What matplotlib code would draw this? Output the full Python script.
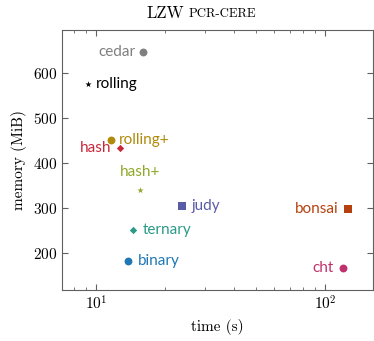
import matplotlib
matplotlib.use("Agg")
import matplotlib.pyplot as plt
from matplotlib.ticker import LogLocator, NullFormatter

plt.rcParams["font.family"] = "cmr10"
plt.rcParams["mathtext.fontset"] = "cm"
plt.rcParams["axes.formatter.use_mathtext"] = True

names = ["cedar", "rolling", "rolling+", "hash", "hash+", "judy",
         "ternary", "binary", "bonsai", "cht"]
times = [16.1, 9.2, 11.6, 12.7, 15.6, 23.8, 14.5, 13.8, 126, 120]
memory = [646, 575, 451, 433, 340, 304, 251, 182, 298, 167]
colors = ["#7f7f7f", "#000000", "#b08a0a", "#c8283a", "#8fa82a", "#5a5aa8",
          "#2a9a88", "#1f78b4", "#b5420e", "#c0306c"]
markers = ["o", "*", "o", "D", "*", "s", "D", "o", "s", "o"]
sizes = [32, 22, 32, 14, 22, 32, 14, 32, 32, 32]
# label placement: (dx, dy) in points, ha
places = [(-6, 0, "right"), (6, 0, "left"), (6, 0, "left"), (-6, 0, "right"),
          (0, 13, "center"), (7, 0, "left"), (7, 0, "left"), (7, 0, "left"),
          (-7, 0, "right"), (-7, 0, "right")]

fig = plt.figure(figsize=(3.74, 3.41), dpi=100)
ax = fig.add_axes([62 / 374, 1 - 290 / 341, 311 / 374, 260 / 341])

for n, t, m, c, mk, s, p in zip(names, times, memory, colors, markers, sizes, places):
    ax.scatter(t, m, color=c, marker=mk, s=s, zorder=3, linewidths=0)
    ax.annotate(n, (t, m), xytext=(p[0], p[1]), textcoords="offset points",
                ha=p[2], va="center", color=c, fontsize=11, family="Lato")

ax.set_xscale("log")
ax.set_xlim(7.1, 162)
ax.set_ylim(118, 696)
ax.set_yticks([200, 300, 400, 500, 600])
ax.xaxis.set_minor_locator(LogLocator(base=10, subs=range(2, 10)))
ax.xaxis.set_minor_formatter(NullFormatter())
ax.tick_params(which="both", direction="in", top=True, right=True,
               labelsize=11, color="#606060")
ax.tick_params(which="major", length=4)
ax.tick_params(which="minor", length=2.5)
for sp in ax.spines.values():
    sp.set_color("#606060")

ax.set_xlabel("time (s)", fontsize=11)
ax.set_ylabel("memory (MiB)", fontsize=11)

fig.text(184 / 374, 1 - 13 / 341, "LZW", ha="right", va="center", fontsize=12)
fig.text(189 / 374, 1 - 13.8 / 341, "PCR-CERE", ha="left", va="center", fontsize=9.2)

fig.savefig("out.png", dpi=100)
